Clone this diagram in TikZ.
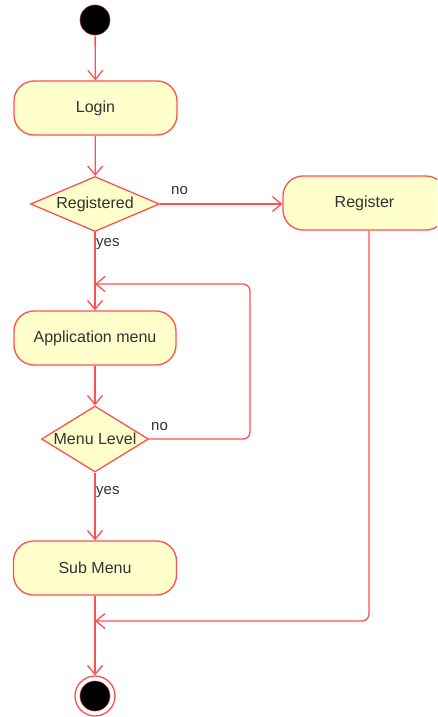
\documentclass[tikz,border=0pt]{standalone}
\usepackage{fontspec}
\setmainfont{Liberation Sans}
\usetikzlibrary{shapes.geometric,arrows.meta}
\definecolor{uml}{RGB}{255,80,80}
\definecolor{fillc}{RGB}{255,255,204}
\definecolor{txt}{RGB}{50,50,50}
\begin{document}
\begin{tikzpicture}[x=1pt,y=-1pt,
  action/.style={draw=uml, fill=fillc, line width=1.3pt, rounded corners=20pt,
    minimum height=54pt, inner sep=0pt, text=txt, font=\fontsize{16}{19}\selectfont},
  decision/.style={diamond, draw=uml, fill=fillc, line width=1.3pt, inner sep=0pt,
    text=txt, font=\fontsize{16}{19}\selectfont},
  flow/.style={draw=uml, line width=1.3pt, -{Straight Barb[length=9pt,width=15pt,line width=1.3pt]}},
  lbl/.style={text=txt, font=\fontsize{15}{17}\selectfont, inner sep=0pt}]
\useasboundingbox (0,0) rectangle (437,717);
\clip (0,0) rectangle (437,717);

\node[circle, fill=black, draw=uml!60!black, line width=0.6pt, minimum size=30pt, inner sep=0pt] (start) at (95,20) {};
\node[action, minimum width=163pt] (login) at (95.5,108) {Login};
\node[decision, minimum width=129pt, minimum height=55pt] (reg) at (95,204) {\makebox[0pt]{Registered}};
\node[action, minimum width=163pt] (register) at (364.5,203) {Register};
\node[action, minimum width=162pt] (app) at (95,338) {Application menu};
\node[decision, minimum width=107pt, minimum height=66pt] (menu) at (95,439) {\makebox[0pt]{Menu Level}};
\node[action, minimum width=163pt] (sub) at (95,568) {Sub Menu};
\node[circle, draw=uml, fill=white, line width=1.3pt, minimum size=40pt, inner sep=0pt] (end) at (95,696) {};
\node[circle, fill=black, draw=uml!70!black, line width=0.6pt, minimum size=30pt, inner sep=0pt] (endin) at (end.center) {};

\coordinate (join1) at (95,284);
\coordinate (join2) at (95,621);

\node[lbl, anchor=west] (no1) at (171,191) {no};
\node[lbl, anchor=west] (yes1) at (96,244) {yes};
\node[lbl, anchor=west] (no2) at (151,427) {no};
\node[lbl, anchor=west] (yes2) at (96,492) {yes};

\draw[flow] (start) -- (login);
\draw[flow] (login) -- (reg);
\draw[flow] (reg.east) -- (reg.east -| register.west);
\draw[flow] (reg.south) -- (app.north);
\draw[flow, rounded corners=7pt] (menu.east) -- (250,439) |- (join1);
\draw[flow] (app) -- (menu);
\draw[flow] (menu.south) -- (sub.north);
\draw[flow, rounded corners=7pt] ([xshift=4.5pt]register.south) |- (join2);
\draw[flow] (sub) -- (end);
\end{tikzpicture}
\end{document}
